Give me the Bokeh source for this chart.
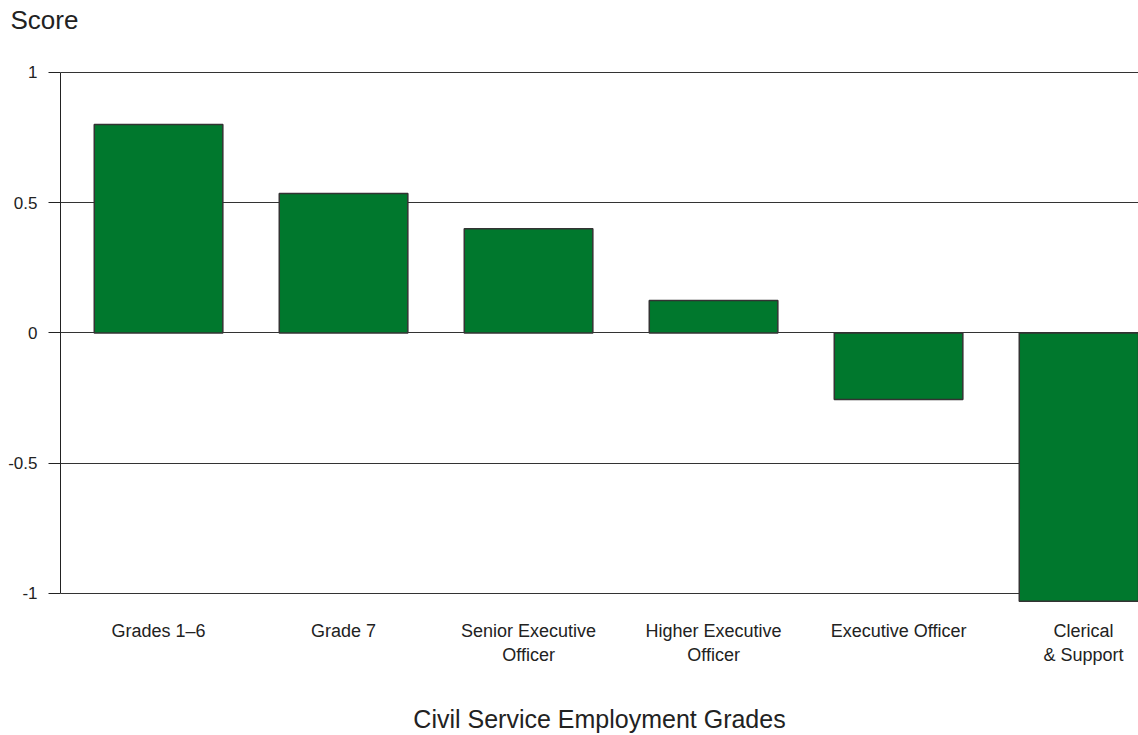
from bokeh.plotting import figure
from bokeh.models import Range1d, FixedTicker, NumeralTickFormatter, ColumnDataSource
from bokeh.embed import file_html
from bokeh.resources import INLINE

categories = ["Grades 1\u20136", "Grade 7", "Senior Executive\nOfficer",
              "Higher Executive\nOfficer", "Executive Officer", "Clerical\n& Support"]
scores = [0.80, 0.535, 0.40, 0.125, -0.255, -1.03]
y_ticks = [-1, -0.5, 0, 0.5, 1]

idx = list(range(len(categories)))
src = ColumnDataSource(dict(x=idx, top=scores, cat=categories))

FONT = "Liberation Sans"

p = figure(width=1138, height=735, output_backend="svg", toolbar_location=None,
           x_range=Range1d(-0.53, 5.297), y_range=Range1d(-1.05, 1.138),
           min_border_left=60, min_border_right=0, min_border_top=0,
           min_border_bottom=129, title="Score")
p.outline_line_color = None
p.background_fill_color = "white"
p.border_fill_color = "white"

p.title.text_font = FONT
p.title.text_font_size = "26px"
p.title.text_font_style = "normal"
p.title.text_color = "#222222"
p.title.offset = -50
p.title.standoff = 4

p.vbar(x="x", top="top", bottom=0, width=0.695, source=src,
       fill_color="#00782D", line_color="#333333", line_width=1.5)

# y axis
ya = p.yaxis[0]
ya.ticker = FixedTicker(ticks=y_ticks)
ya.formatter = NumeralTickFormatter(format="0.[0]")
ya.bounds = (-1, 1)
ya.axis_line_color = "#222222"
ya.major_tick_line_color = "#222222"
ya.major_tick_out = 12
ya.major_tick_in = 0
ya.minor_tick_line_color = None
ya.major_label_standoff = 11
ya.major_label_text_font = FONT
ya.major_label_text_font_size = "17px"
ya.major_label_text_color = "#222222"

p.ygrid.ticker = FixedTicker(ticks=y_ticks)
p.ygrid.grid_line_color = "#333333"
p.ygrid.grid_line_width = 1
p.xgrid.grid_line_color = None

# x axis
xa = p.xaxis[0]
xa.ticker = FixedTicker(ticks=idx)
xa.major_label_overrides = {i: c for i, c in zip(idx, categories)}
xa.axis_line_color = None
xa.major_tick_line_color = None
xa.major_tick_out = 0
xa.major_tick_in = 0
xa.minor_tick_line_color = None
xa.major_label_standoff = 14
xa.major_label_text_font = FONT
xa.major_label_text_font_size = "18px"
xa.major_label_text_color = "#222222"
xa.axis_label = "Civil Service Employment Grades"
xa.axis_label_text_font = FONT
xa.axis_label_text_font_size = "25px"
xa.axis_label_text_font_style = "normal"
xa.axis_label_text_color = "#222222"
xa.axis_label_standoff = 37

open("out.html", "w").write(file_html(p, INLINE))
